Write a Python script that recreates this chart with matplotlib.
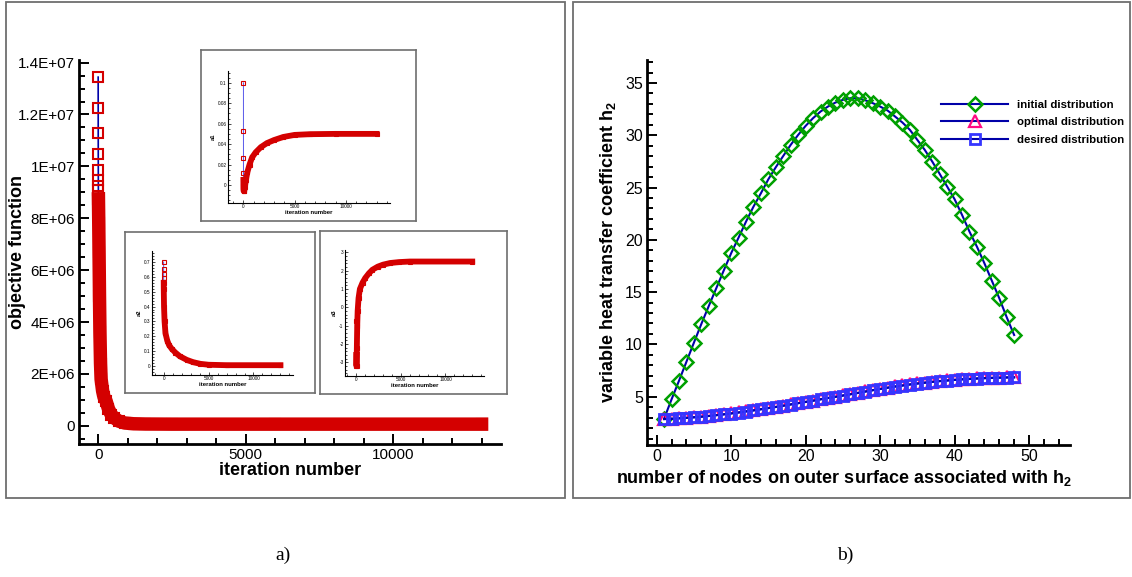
import matplotlib
matplotlib.use("Agg")
import matplotlib.pyplot as plt
from matplotlib.patches import Rectangle
from matplotlib.lines import Line2D
from matplotlib.ticker import MultipleLocator, FixedLocator, FuncFormatter

# ---------------- data ----------------
# a) objective function history
main_iter = [0, 1, 2, 3, 4, 5, 6, 7, 10, 20, 30, 45, 60, 80, 100, 150, 200, 270,
             350, 450, 550, 700, 900, 1200, 1600, 2500, 6000, 13000]
main_obj = [1.344e7, 1.224e7, 1.128e7, 1.049e7, 9.87e6, 9.49e6, 9.23e6, 9.08e6,
            8.75e6, 7.8e6, 6.7e6, 5.0e6, 3.6e6, 2.4e6, 1.8e6, 1.35e6, 1.1e6, 9.5e5,
            6.5e5, 4.2e5, 3.0e5, 1.8e5, 1.1e5, 8.0e4, 7.0e4, 6.5e4, 6.5e4, 6.5e4]
main_yticks = [0, 2e6, 4e6, 6e6, 8e6, 1e7, 1.2e7, 1.4e7]
main_ylabels = ["0", "2E+06", "4E+06", "6E+06", "8E+06", "1E+07", "1.2E+07", "1.4E+07"]
iter_ticks = [0, 5000, 10000]

# parameter histories (insets)
a1_iter = [0, 1, 2, 3, 4, 6, 10, 30, 80, 150, 250, 400, 600, 850, 1200, 1700,
           2300, 3000, 3900, 5000, 6500, 9000, 13000]
a1_val = [0.1, 0.053, 0.026, 0.012, 0.005, 0.0, -0.004, -0.006, -0.006, -0.002,
          0.005, 0.013, 0.020, 0.027, 0.032, 0.037, 0.041, 0.044, 0.047, 0.049,
          0.0497, 0.050, 0.050]
a2_iter = [0, 1, 2, 3, 5, 10, 40, 100, 200, 400, 600, 900, 1300, 1800, 2600,
           3300, 4100, 5000, 7000, 13000]
a2_val = [0.70, 0.655, 0.62, 0.595, 0.56, 0.52, 0.40, 0.30, 0.22, 0.17, 0.14,
          0.115, 0.09, 0.065, 0.04, 0.025, 0.014, 0.008, 0.005, 0.005]
a3_iter = [0, 2, 5, 30, 60, 100, 150, 250, 400, 700, 1000, 1400, 1800, 2400,
           3000, 3800, 4800, 6000, 13000]
a3_val = [-0.77, -2.6, -3.2, -3.2, -2.2, -1.0, -0.2, 0.5, 1.0, 1.35, 1.6, 1.85,
          2.05, 2.22, 2.33, 2.42, 2.47, 2.5, 2.5]

# b) heat transfer coefficient distributions
nodes = list(range(1, 49))
h_initial = [2.9, 4.75, 6.53, 8.35, 10.17, 11.96, 13.68, 15.37, 17.06, 18.72,
             20.22, 21.75, 23.18, 24.46, 25.8, 26.95, 28.03, 29.09, 30.04, 30.9,
             31.64, 32.27, 32.75, 33.13, 33.39, 33.55, 33.55, 33.35, 33.08, 32.75,
             32.37, 31.8, 31.22, 30.52, 29.56, 28.6, 27.49, 26.31, 25.1, 23.89,
             22.39, 20.79, 19.35, 17.77, 16.1, 14.42, 12.6, 10.9]
h_optimal = [2.87, 2.9, 2.94, 2.99, 3.04, 3.1, 3.17, 3.24, 3.32, 3.41, 3.5, 3.6,
             3.7, 3.81, 3.92, 4.03, 4.15, 4.27, 4.39, 4.51, 4.63, 4.76, 4.88, 5.0,
             5.12, 5.24, 5.37, 5.5, 5.63, 5.75, 5.87, 5.98, 6.08, 6.18, 6.27, 6.35,
             6.43, 6.5, 6.56, 6.62, 6.67, 6.71, 6.75, 6.78, 6.81, 6.83, 6.85, 6.86]
h_desired = [2.85, 2.88, 2.92, 2.97, 3.02, 3.08, 3.15, 3.22, 3.3, 3.39, 3.48, 3.58,
             3.68, 3.79, 3.9, 4.01, 4.13, 4.25, 4.37, 4.49, 4.61, 4.74, 4.86, 4.98,
             5.1, 5.22, 5.35, 5.48, 5.61, 5.73, 5.85, 5.96, 6.06, 6.16, 6.25, 6.33,
             6.41, 6.48, 6.54, 6.6, 6.65, 6.69, 6.73, 6.76, 6.79, 6.81, 6.83, 6.84]
h_ticks = [5, 10, 15, 20, 25, 30, 35]
node_ticks = [0, 10, 20, 30, 40, 50]
legend_labels = ["initial distribution", "optimal distribution", "desired distribution"]

# ---------------- style ----------------
plt.rcParams['font.family'] = ['Liberation Sans', 'DejaVu Sans']
plt.rcParams['mathtext.fontset'] = 'custom'
plt.rcParams['mathtext.rm'] = 'Liberation Sans'
plt.rcParams['mathtext.bf'] = 'Liberation Sans:bold'

RED = '#d40000'
NAVY = '#0000a8'
W, H = 1132, 577
fig = plt.figure(figsize=(W / 100, H / 100), dpi=100)


def box(x0, y0, x1, y1):
    """Pixel box (origin top-left) to figure-fraction rectangle."""
    return [x0 / W, 1 - y1 / H, (x1 - x0) / W, (y1 - y0) / H]


def style_axes(ax, lw, tick_w, major_len, minor_len, labelsize, pad):
    for s in ('top', 'right'):
        ax.spines[s].set_visible(False)
    for s in ('left', 'bottom'):
        ax.spines[s].set_linewidth(lw)
    ax.tick_params(which='both', direction='in', width=tick_w, labelsize=labelsize, pad=pad)
    ax.tick_params(which='major', length=major_len)
    ax.tick_params(which='minor', length=minor_len)


g = FuncFormatter(lambda v, p: "%g" % v)

# panel frames
for x0, x1 in ((6, 565), (573, 1130)):
    fig.patches.append(Rectangle((x0 / W, 1 - 498 / H), (x1 - x0) / W, 496 / H,
                                 transform=fig.transFigure, fill=False,
                                 ec='#6e6e6e', lw=1.3, zorder=0))

# ---------------- a) main history ----------------
ax = fig.add_axes(box(79, 60, 501, 444))
ax.plot(main_iter, main_obj, color=NAVY, lw=1.2, marker='s', ms=6.7, mfc='none',
        mec=RED, mew=1.5, zorder=3)
ax.plot(main_iter[8:], main_obj[8:], color=RED, lw=9.7, solid_capstyle='projecting',
        solid_joinstyle='round', zorder=4)
ax.set_xlim(-650, 13660)
ax.set_ylim(-7e5, 1.41e7)
ax.xaxis.set_major_locator(FixedLocator(iter_ticks))
ax.xaxis.set_major_formatter(g)
ax.xaxis.set_minor_locator(MultipleLocator(1000))
ax.yaxis.set_major_locator(FixedLocator(main_yticks))
ax.set_yticklabels(main_ylabels)
ax.yaxis.set_minor_locator(MultipleLocator(5e5))
style_axes(ax, 2.0, 1.4, 7, 4, 11, 3)
ax.set_xlabel("iteration number", fontsize=13, fontweight='bold')
ax.set_ylabel("objective function", fontsize=13, fontweight='bold')
ax.xaxis.label.set_va('center')
ax.yaxis.label.set_va('center')
ax.xaxis.set_label_coords(0.5, -0.068)
ax.yaxis.set_label_coords(-0.145, 0.5)

# insets
insets = [
    (box(201, 50, 416, 221), box(228, 71, 390, 203), a1_iter, a1_val, 'a1',
     (-1500, 14300), (-0.0176, 0.1115), [0, 0.02, 0.04, 0.06, 0.08, 0.1], 0.005, 4),
    (box(125, 232, 315, 393), box(152, 251, 293, 375), a2_iter, a2_val, 'a2',
     (-1300, 14400), (-0.061, 0.774), [0, 0.1, 0.2, 0.3, 0.4, 0.5, 0.6, 0.7], 0.02, 4),
    (box(320, 231, 507, 394), box(345, 250, 484, 376), a3_iter, a3_val, 'a3',
     (-1270, 14320), (-3.75, 3.13), [-3, -2, -1, 0, 1, 2, 3], 0.2, 1),
]
for frame_rect, ax_rect, xs, ys, name, xl, yl, yt, ymin, band_from in insets:
    fr = fig.add_axes(frame_rect, zorder=2)
    fr.set_xticks([])
    fr.set_yticks([])
    for s in fr.spines.values():
        s.set_color('#6e6e6e')
        s.set_linewidth(1.2)
    ia = fig.add_axes(ax_rect, zorder=3)
    ia.patch.set_alpha(0)
    ia.plot(xs, ys, color='#3c3ce6', lw=0.6, zorder=2)
    ia.plot(xs, ys, ls='none', marker='s', ms=3.4, mfc='none', mec=RED,
            mew=0.8, zorder=3)
    ia.plot(xs[band_from:], ys[band_from:], color=RED, lw=4.2,
            solid_capstyle='projecting', solid_joinstyle='round', zorder=4)
    ia.set_xlim(*xl)
    ia.set_ylim(*yl)
    ia.xaxis.set_major_locator(FixedLocator(iter_ticks))
    ia.xaxis.set_major_formatter(g)
    ia.xaxis.set_minor_locator(MultipleLocator(1000))
    ia.yaxis.set_major_locator(FixedLocator(yt))
    ia.yaxis.set_major_formatter(g)
    ia.yaxis.set_minor_locator(MultipleLocator(ymin))
    style_axes(ia, 0.8, 0.5, 2.5, 1.3, 3.4, 1)
    ia.set_xlabel("iteration number", fontsize=4.3, fontweight='bold', labelpad=0.5)
    ia.set_ylabel(name, fontsize=4.3, fontweight='bold', labelpad=1.5)

# ---------------- b) distributions ----------------
bx = fig.add_axes(box(647, 60, 1070, 445))
kw_line = dict(color=NAVY, lw=1.5)
ini = dict(marker='D', ms=7.2, mfc='none', mec='#00a000', mew=1.8)
opt = dict(marker='^', ms=8.0, mfc='none', mec='#ff0a82', mew=1.6)
des = dict(marker='s', ms=7.0, mfc='none', mec='#3535ff', mew=2.0)
bx.plot(nodes, h_initial, **kw_line, **ini, zorder=3)
bx.plot(nodes, h_optimal, **kw_line, **opt, zorder=3)
bx.plot(nodes, h_desired, **kw_line, **des, zorder=4)
bx.set_xlim(-1.3, 55.5)
bx.set_ylim(0.38, 37.2)
bx.xaxis.set_major_locator(FixedLocator(node_ticks))
bx.xaxis.set_minor_locator(MultipleLocator(2))
bx.yaxis.set_major_locator(FixedLocator(h_ticks))
bx.yaxis.set_minor_locator(MultipleLocator(1))
style_axes(bx, 2.0, 1.4, 7, 4, 11.5, 3)
bx.set_xlabel(r"number of nodes on outer surface associated with h$_{\mathbf{2}}$",
              fontsize=13, fontweight='bold')
bx.set_ylabel(r"variable heat transfer coefficient h$_{\mathbf{2}}$",
              fontsize=13, fontweight='bold')
bx.xaxis.label.set_va('center')
bx.yaxis.label.set_va('center')
bx.xaxis.set_label_coords(0.465, -0.086)
bx.yaxis.set_label_coords(-0.092, 0.502)

handles = [Line2D([], [], **kw_line, **ini), Line2D([], [], **kw_line, **opt),
           Line2D([], [], **kw_line, **des)]
bx.legend(handles, legend_labels, loc='upper left', bbox_to_anchor=(0.695, 0.897),
          frameon=False, prop={'weight': 'bold', 'size': 8.2}, handlelength=5.9,
          handletextpad=0.75, labelspacing=0.66, borderpad=0, borderaxespad=0,
          numpoints=1)

# panel captions
fig.text(283 / W, 1 - 555 / H, "a)", family='Liberation Serif', fontsize=14,
         ha='center', va='center')
fig.text(845 / W, 1 - 555 / H, "b)", family='Liberation Serif', fontsize=14,
         ha='center', va='center')

fig.savefig("out.png", dpi=100)
